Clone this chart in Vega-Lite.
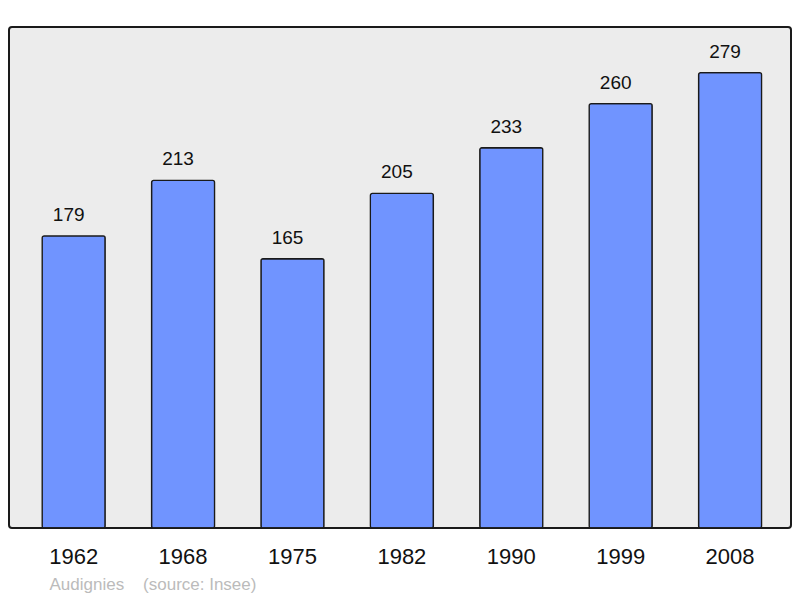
{
  "$schema": "https://vega.github.io/schema/vega-lite/v6.json",
  "width": 782,
  "height": 501,
  "autosize": "none",
  "padding": {"left": 9, "top": 27, "right": 9, "bottom": 70},
  "background": "white",
  "config": {
    "view": {"fill": "#ececec", "stroke": "#1a1a1a", "strokeWidth": 2, "cornerRadius": 3},
    "font": "Liberation Sans"
  },
  "data": {
    "values": [
      {"year": "1962", "pop": 179},
      {"year": "1968", "pop": 213},
      {"year": "1975", "pop": 165},
      {"year": "1982", "pop": 205},
      {"year": "1990", "pop": 233},
      {"year": "1999", "pop": 260},
      {"year": "2008", "pop": 279}
    ]
  },
  "encoding": {
    "x": {
      "field": "year", "type": "nominal", "sort": null,
      "scale": {"paddingInner": 0.424, "paddingOuter": 0.286, "align": 0.53},
      "axis": {
        "domain": false, "ticks": false, "labelAngle": 0,
        "labelFontSize": 22, "labelColor": "#111", "labelPadding": 18,
        "title": "Audignies\u00a0\u00a0\u00a0 (source: Insee)",
        "titleFontSize": 17, "titleFontWeight": "normal", "titleColor": "#bbbbbb",
        "titleAnchor": "start", "titleAlign": "left", "titleBaseline": "middle",
        "titleX": 40, "titleY": 56
      }
    },
    "y": {
      "field": "pop", "type": "quantitative",
      "scale": {"domain": [0, 307], "nice": false},
      "axis": null
    }
  },
  "layer": [
    {
      "mark": {"type": "bar", "color": "#7094ff", "stroke": "#1a1a1a", "strokeWidth": 1.3, "cornerRadius": 2}
    },
    {
      "mark": {"type": "text", "baseline": "alphabetic", "dy": -15, "dx": -5, "fontSize": 19, "color": "#111"},
      "encoding": {"text": {"field": "pop", "type": "quantitative"}}
    }
  ]
}
